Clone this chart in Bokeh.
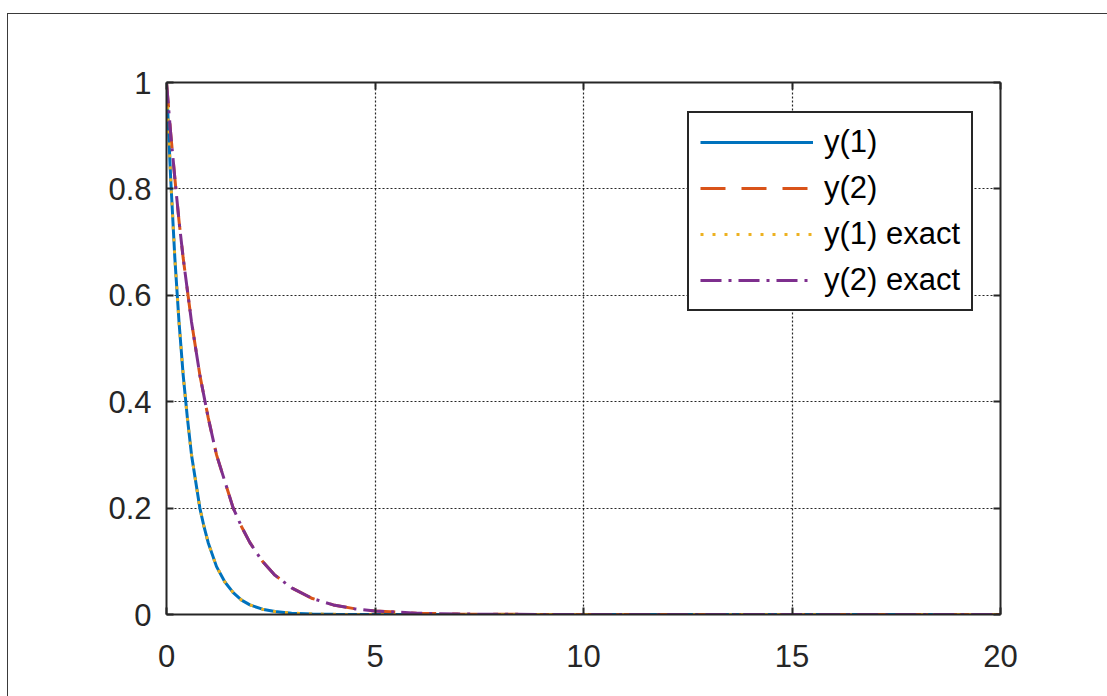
from bokeh.plotting import figure
from bokeh.models import (FixedTicker, LinearAxis, Range1d, Legend, LegendItem,
                          InlineStyleSheet)
from bokeh.embed import file_html
from bokeh.resources import INLINE

# ---- data ----
t = [0, 0.1, 0.2, 0.3, 0.4, 0.5, 0.6, 0.7, 0.8, 0.9, 1.0, 1.2, 1.4, 1.6, 1.8,
     2.0, 2.3, 2.6, 3.0, 3.5, 4.0, 4.5, 5.0, 6.0, 7.0, 8.0, 10.0, 12.0, 15.0, 20.0]
y1 = [1.0, 0.82, 0.67, 0.55, 0.45, 0.37, 0.30, 0.25, 0.20, 0.165, 0.135, 0.09,
      0.061, 0.041, 0.027, 0.018, 0.010, 0.0055, 0.0025, 0.001, 0.0003, 0.0001,
      0.0, 0.0, 0.0, 0.0, 0.0, 0.0, 0.0, 0.0]
y2 = [1.0, 0.905, 0.82, 0.74, 0.67, 0.61, 0.55, 0.50, 0.45, 0.41, 0.37, 0.30,
      0.25, 0.20, 0.165, 0.135, 0.10, 0.074, 0.05, 0.03, 0.018, 0.011, 0.0067,
      0.0025, 0.0009, 0.0003, 0.00005, 0.0, 0.0, 0.0]
y1_exact = list(y1)
y2_exact = list(y2)

series_labels = ["y(1)", "y(2)", "y(1) exact", "y(2) exact"]
x_ticks = [0, 5, 10, 15, 20]
y_ticks = [0, 0.2, 0.4, 0.6, 0.8, 1]
y_tick_labels = ["0", "0.2", "0.4", "0.6", "0.8", "1"]

# ---- figure ----
W, H = 1107, 696
FONT = "Liberation Sans"
INK = "#262626"

p = figure(width=W, height=H, x_range=Range1d(0, 20), y_range=Range1d(0, 1),
           output_backend="svg", toolbar_location=None,
           min_border_left=166, min_border_right=107,
           min_border_top=82, min_border_bottom=82)
p.background_fill_color = "white"
p.border_fill_color = "white"
p.outline_line_color = None

# outer figure border (left and top edges visible in the reference)
p.stylesheets = [InlineStyleSheet(css="""
:host { position: relative; }
:host::after {
  content: ''; position: absolute; left: 7px; top: 13px; right: 0; bottom: 0;
  border-left: 1.5px solid #3a3a3a; border-top: 1.5px solid #3a3a3a;
  pointer-events: none; z-index: 10;
}
""")]

# axes
for ax in (p.xaxis[0], p.yaxis[0]):
    ax.axis_line_color = INK
    ax.axis_line_width = 2
    ax.major_tick_in = 7
    ax.major_tick_out = 0
    ax.minor_tick_line_color = None
    ax.major_tick_line_color = INK
    ax.major_tick_line_width = 2
    ax.major_label_text_font = FONT
    ax.major_label_text_font_size = "31px"
    ax.major_label_text_color = INK

p.xaxis[0].ticker = FixedTicker(ticks=x_ticks)
p.xaxis[0].major_label_standoff = 30
p.yaxis[0].ticker = FixedTicker(ticks=y_ticks)
p.yaxis[0].major_label_standoff = 15
p.yaxis[0].major_label_overrides = dict(zip(y_ticks, y_tick_labels))

for loc, tk in (("right", y_ticks), ("above", x_ticks)):
    ax = LinearAxis(ticker=FixedTicker(ticks=tk))
    ax.axis_line_color = INK
    ax.axis_line_width = 2
    ax.major_tick_in = 7
    ax.major_tick_out = 0
    ax.minor_tick_line_color = None
    ax.major_tick_line_color = INK
    ax.major_tick_line_width = 2
    ax.major_label_text_color = None
    ax.major_label_text_font_size = "1px"
    p.add_layout(ax, loc)

# grid
for g in (p.xgrid[0], p.ygrid[0]):
    g.grid_line_color = "#000000"
    g.grid_line_alpha = 0.85
    g.grid_line_dash = "2 2"
    g.grid_line_width = 1.2
p.xgrid[0].ticker = FixedTicker(ticks=x_ticks)
p.ygrid[0].ticker = FixedTicker(ticks=y_ticks)

# lines
r1 = p.line(t, y1, line_color="#0072BD", line_width=3)
r2 = p.line(t, y2, line_color="#D95319", line_width=3, line_dash="25 16")
r3 = p.line(t, y1_exact, line_color="#EDB120", line_width=3, line_dash="3 9")
r4 = p.line(t, y2_exact, line_color="#7E2F8E", line_width=3, line_dash="21 7 3 7")

legend = Legend(items=[LegendItem(label=lab, renderers=[r])
                       for lab, r in zip(series_labels, [r1, r2, r3, r4])],
                location=(521, 303), margin=0, padding=11, spacing=10,
                glyph_width=113, glyph_height=30, label_height=30,
                label_standoff=11, label_text_font=FONT,
                label_text_font_size="31px", label_text_color="#000000",
                border_line_color=INK, border_line_width=2, border_line_alpha=1,
                background_fill_color="white", background_fill_alpha=1)
p.add_layout(legend)

open("out.html", "w").write(file_html(p, INLINE))
